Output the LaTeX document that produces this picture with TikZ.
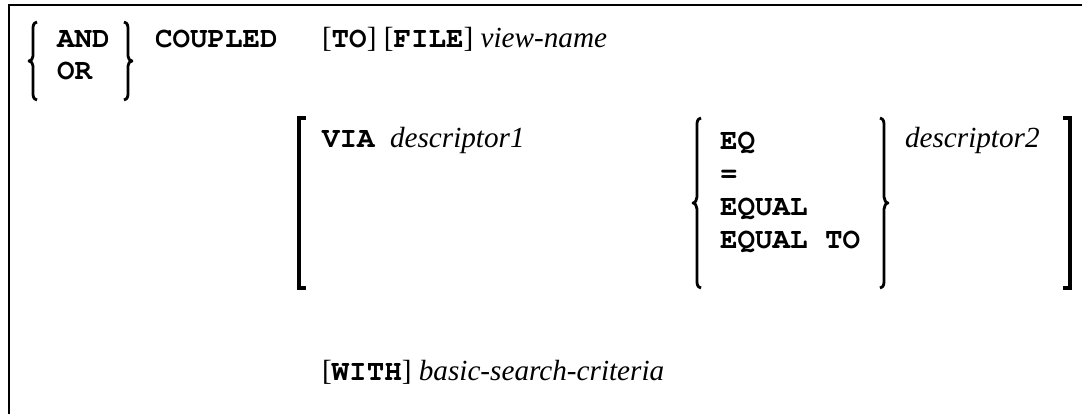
\documentclass[tikz,border=0pt]{standalone}
\usepackage[T1]{fontenc}
\usepackage{fontspec}
\setmainfont{Liberation Serif}
\newcommand\courbf{\fontencoding{T1}\fontfamily{pcr}\fontseries{b}\fontshape{n}\selectfont}
\begin{document}
\begin{tikzpicture}[x=1pt,y=-1pt,
  txt/.style={anchor=base west,inner sep=0pt,outer sep=0pt,font=\fontsize{29.2}{34}\selectfont},
  kw/.style={txt,font=\fontsize{29.2}{34}\selectfont\courbf},
  var/.style={txt,font=\fontsize{29.2}{34}\selectfont\itshape},
  frame/.style={line width=2.2pt},
  brk/.style={line width=4pt,line cap=butt},
  brc/.style={line width=2.8pt,line cap=butt,line join=round}]
\useasboundingbox (0,0) rectangle (1082,414);
% frame
\draw[frame] (9,414) -- (9,5) -- (1082,5);
% row 1
\node[kw] (and) at (57,48) {AND};
\node[kw] (or) at (57,80) {OR};
\draw[brc] (37,22) .. controls (33,23) and (33,26) .. (33,30) -- (33,56)
  .. controls (33,59) and (31,61) .. (29,61) .. controls (31,61) and (33,63) .. (33,66)
  -- (33,92) .. controls (33,96) and (33,99) .. (37,100);
\draw[brc] (124,22) .. controls (128,23) and (128,26) .. (128,30) -- (128,56)
  .. controls (128,59) and (130,61) .. (132,61) .. controls (130,61) and (128,63) .. (128,66)
  -- (128,92) .. controls (128,96) and (128,99) .. (124,100);
\node[kw] (coupled) at (155,48) {COUPLED};
\node[txt] (to) at (322,48) {[{\courbf TO}] [{\courbf FILE}] \textit{view-name}};
% row 2
\draw[brk] (306,118) -- (299,118) -- (299,288) -- (306,288);
\node[kw] (via) at (322,148) {VIA};
\node[var] (d1) at (390,148) {descriptor1};
\draw[brc] (701,118) .. controls (697,119) and (697,122) .. (697,126) -- (697,197)
  .. controls (697,200) and (695,203) .. (693,203) .. controls (695,203) and (697,206) .. (697,209)
  -- (697,280) .. controls (697,284) and (697,287) .. (701,288);
\node[kw] (eq) at (720,150) {EQ};
\node[kw] (eqs) at (720,183) {=};
\node[kw] (equal) at (720,216) {EQUAL};
\node[kw] (equalto) at (720,249) {EQUAL TO};
\draw[brc] (880,118) .. controls (884,119) and (884,122) .. (884,126) -- (884,197)
  .. controls (884,200) and (886,203) .. (888,203) .. controls (886,203) and (884,206) .. (884,209)
  -- (884,280) .. controls (884,284) and (884,287) .. (880,288);
\node[var] (d2) at (905,148) {descriptor2};
\draw[brk] (1063,118) -- (1070,118) -- (1070,288) -- (1063,288);
% row 3
\node[txt] (with) at (322,380) {[{\courbf WITH}] \textit{basic-search-criteria}};
\end{tikzpicture}
\end{document}
